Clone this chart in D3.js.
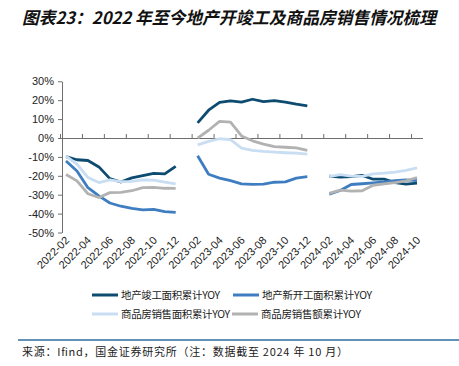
<!DOCTYPE html>
<html><head><meta charset="utf-8">
<script src="https://cdn.jsdelivr.net/npm/d3@7"></script>
<style>body{margin:0;background:#fff;}svg{display:block;}</style>
</head><body>
<svg id="c" width="459" height="366"></svg>
<script>
const categories = [
 "2022-02","2022-03","2022-04","2022-05","2022-06","2022-07","2022-08","2022-09","2022-10","2022-11","2022-12",
 "2023-01","2023-02","2023-03","2023-04","2023-05","2023-06","2023-07","2023-08","2023-09","2023-10","2023-11","2023-12",
 "2024-01","2024-02","2024-03","2024-04","2024-05","2024-06","2024-07","2024-08","2024-09","2024-10"];
const tickLabels = ["2022-02","2022-04","2022-06","2022-08","2022-10","2022-12","2023-02","2023-04","2023-06","2023-08","2023-10","2023-12","2024-02","2024-04","2024-06","2024-08","2024-10"];
const yTicks = [30,20,10,0,-10,-20,-30,-40,-50];
const seriesNames = ["地产竣工面积累计YOY","地产新开工面积累计YOY","商品房销售面积累计YOY","商品房销售额累计YOY"];
const completion = [-9.9,-11.5,-11.9,-15.3,-21.5,-23.3,-21.1,-19.9,-18.7,-19.0,-15.0,
 null,8.0,14.7,18.8,19.6,19.0,20.5,19.2,19.8,19.0,17.9,17.0,
 null,-20.2,-20.7,-20.4,-19.8,-21.8,-21.8,-23.6,-24.4,-23.9];
const newStarts = [-12.2,-17.5,-26.3,-30.6,-34.4,-36.1,-37.2,-38.0,-37.8,-38.9,-39.4,
 null,-9.4,-19.2,-21.2,-22.6,-24.3,-24.5,-24.4,-23.4,-23.2,-21.2,-20.4,
 null,-29.7,-27.8,-24.6,-24.2,-23.7,-23.2,-22.5,-22.2,-22.6];
const salesArea = [-9.6,-13.8,-20.9,-23.6,-22.2,-23.1,-23.0,-22.2,-22.3,-23.3,-24.3,
 null,-3.6,-1.8,-0.4,-0.9,-5.3,-6.5,-7.1,-7.5,-7.8,-8.0,-8.5,
 null,-20.5,-19.4,-20.2,-20.3,-19.0,-18.6,-18.0,-17.1,-15.8];
const salesValue = [-19.3,-22.7,-29.5,-31.5,-28.9,-28.8,-27.9,-26.3,-26.1,-26.6,-26.7,
 null,-0.1,4.1,8.8,8.4,1.1,-1.5,-3.2,-4.6,-4.9,-5.2,-6.5,
 null,-29.3,-27.6,-28.1,-27.9,-25.0,-24.3,-23.6,-22.7,-20.9];
const colors = ["#0D4C70","#3F7DC1","#C9DEF2","#B2B2B2"];
const seriesData = [completion,newStarts,salesArea,salesValue];

const svg = d3.select("#c");
const x = d3.scaleBand().domain(categories).range([60.5,422.5]);
const y = d3.scaleLinear().domain([-50,30]).range([232.5,81.3]);
const axisColor = "#6e6e6e";
const font = "'Liberation Sans', Arial, sans-serif";
const cjk = "'Noto Sans CJK SC', sans-serif";

// title
svg.append("text").attr("x",22).attr("y",24)
  .attr("font-family",cjk).attr("font-size",17).attr("font-weight","bold").attr("font-style","italic")
  .attr("fill","#111").attr("textLength",414).attr("lengthAdjust","spacingAndGlyphs")
  .text("图表23：2022 年至今地产开竣工及商品房销售情况梳理");

// y axis
const yAxis = svg.append("g").attr("transform","translate(62,0)")
  .call(d3.axisLeft(y).tickValues(yTicks).tickSize(4).tickSizeOuter(0).tickFormat(d=>d+"%"));
yAxis.select(".domain").attr("stroke",axisColor);
yAxis.selectAll(".tick line").attr("stroke",axisColor);
yAxis.selectAll(".tick text").attr("font-family",font).attr("font-size",11).attr("fill","#222").attr("x",-8);

// x axis line at zero with upward ticks
const xAxis = svg.append("g").attr("transform",`translate(0,${y(0)})`)
  .call(d3.axisTop(x).tickValues(tickLabels).tickSize(4).tickSizeOuter(0).tickFormat(""));
xAxis.select(".domain").attr("stroke",axisColor);
xAxis.selectAll(".tick").attr("transform",d=>`translate(${x(d)},0)`);
xAxis.selectAll(".tick line").attr("stroke",axisColor);

// x labels at bottom
svg.append("g").selectAll("text").data(tickLabels).join("text")
  .attr("transform",d=>`translate(${x(d)+x.bandwidth()/2+4},241) rotate(-45)`)
  .attr("text-anchor","end").attr("font-family",font).attr("font-size",11).attr("fill","#222")
  .text(d=>d);

// lines
const line = d3.line().defined(d=>d.v!==null).x(d=>x(d.c)+x.bandwidth()/2).y(d=>y(d.v));
seriesData.forEach((s,i)=>{
  svg.append("path").datum(categories.map((c,j)=>({c,v:s[j]})))
    .attr("d",line).attr("fill","none").attr("stroke",colors[i]).attr("stroke-width",2.8)
    .attr("stroke-linejoin","round");
});

// legend
const legendPos = [[92,295],[233,295],[92,314],[232,314]];
const legendLen = [99,110,109,100];
seriesNames.forEach((n,i)=>{
  const [lx,ly]=legendPos[i];
  svg.append("line").attr("x1",lx).attr("x2",lx+26).attr("y1",ly).attr("y2",ly)
    .attr("stroke",colors[i]).attr("stroke-width",3);
  svg.append("text").attr("x",lx+29).attr("y",ly+4).attr("font-family",cjk).attr("font-size",10.5)
    .attr("fill","#222").attr("textLength",legendLen[i]).attr("lengthAdjust","spacing").text(n);
});

// separator and source
svg.append("line").attr("x1",18).attr("x2",459).attr("y1",340).attr("y2",340)
  .attr("stroke","#2F6E9E").attr("stroke-width",1.6);
svg.append("text").attr("x",22).attr("y",356).attr("font-family",cjk).attr("font-size",11)
  .attr("fill","#222").attr("textLength",326).attr("lengthAdjust","spacing")
  .text("来源：Ifind，国金证券研究所（注：数据截至 2024 年 10 月）");
</script>
</body></html>
